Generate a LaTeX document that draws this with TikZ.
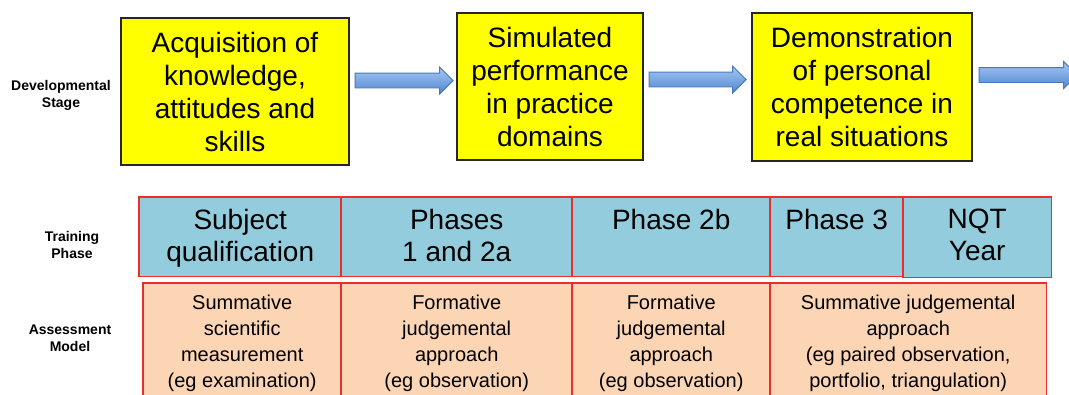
\documentclass[tikz,border=0pt]{standalone}
\usepackage{fontspec}
\setmainfont{Liberation Sans}
\usetikzlibrary{shapes.arrows}

\definecolor{stageyellow}{RGB}{255,255,0}
\definecolor{phaseblue}{RGB}{147,205,221}
\definecolor{modelpeach}{RGB}{252,213,181}
\definecolor{cellred}{RGB}{235,45,45}
\definecolor{arrowtop}{RGB}{165,200,242}
\definecolor{arrowbot}{RGB}{82,135,210}
\definecolor{arrowline}{RGB}{72,120,190}

\begin{document}
\begin{tikzpicture}[x=1pt,y=-1pt,
    stage/.style={draw=black!85, line width=1.3pt, fill=stageyellow, align=center,
        font=\fontsize{28}{33}\selectfont},
    fatarrow/.style={single arrow, draw=arrowline, line width=0.9pt,
        top color=arrowtop, bottom color=arrowbot, inner xsep=0pt, inner ysep=7pt,
        single arrow head extend=6pt, anchor=west},
    phasecell/.style={fill=phaseblue, minimum height=79pt, anchor=north west},
    modelcell/.style={fill=modelpeach, minimum height=117pt, anchor=north west},
    redline/.style={draw=cellred, line width=1.3pt},
    phasetext/.style={align=center, inner sep=0pt, anchor=north,
        font=\fontsize{28}{32}\selectfont},
    modeltext/.style={align=center, inner sep=0pt, anchor=north,
        font=\fontsize{20}{26}\selectfont},
    rowlabel/.style={align=center, font=\fontsize{14}{17}\selectfont\bfseries}]

    \clip (0,0) rectangle (1069,394);

    % row labels
    \node[rowlabel] (devlabel) at (61,95.5) {Developmental\\Stage};
    \node[rowlabel] (trainlabel) at (72,245) {Training\\Phase};
    \node[rowlabel] (assesslabel) at (70,338.5) {Assessment\\Model};

    % developmental stages
    \node[stage, minimum width=228pt, minimum height=147pt] (acq) at (235,91.5) {Acquisition of\\knowledge,\\attitudes and\\skills};
    \node[stage, minimum width=186pt, minimum height=147pt] (sim) at (550,86.5) {Simulated\\performance\\in practice\\domains};
    \node[stage, minimum width=220pt, minimum height=148pt] (demo) at (862,87) {Demonstration\\of personal\\competence in\\real situations};

    \node[fatarrow, minimum height=98pt] (arr1) at ([xshift=5pt,yshift=11pt]acq.east) {};
    \node[fatarrow, minimum height=97pt] (arr2) at ([xshift=5pt,yshift=7pt]sim.east) {};
    \node[fatarrow, minimum height=98pt] (arr3) at ([xshift=6pt,yshift=12pt]demo.east) {};

    % training phases
    \node[phasecell, minimum width=202pt] (subj) at (139,197) {};
    \node[phasecell, minimum width=231pt] (ph1) at (341,197) {};
    \node[phasecell, minimum width=198pt] (ph2b) at (572,197) {};
    \node[phasecell, minimum width=133pt] (ph3) at (770,197) {};
    \node[phasecell, minimum width=148pt, minimum height=80pt] (nqt) at (903,197) {};

    % assessment models
    \node[modelcell, minimum width=198pt] (sci) at (143,283) {};
    \node[modelcell, minimum width=231pt] (form1) at (341,283) {};
    \node[modelcell, minimum width=198pt] (form2) at (572,283) {};
    \node[modelcell, minimum width=276pt] (judg) at (770,283) {};

    % red outlines on top of the fills
    \foreach \c in {subj,ph1,ph2b,ph3,nqt,sci,form1,form2,judg}
        \draw[redline] (\c.north west) rectangle (\c.south east);

    \node[phasetext] (subjt) at ([yshift=-12pt]subj.north) {Subject\\qualification};
    \node[phasetext] (ph1t) at ([yshift=-12pt]ph1.north) {Phases\\1 and 2a};
    \node[phasetext] (ph2bt) at ([yshift=-12pt]ph2b.north) {Phase 2b};
    \node[phasetext] (ph3t) at ([yshift=-12pt]ph3.north) {Phase 3};
    \node[phasetext] (nqtt) at ([yshift=-12pt]nqt.north) {NQT\\Year};

    \node[modeltext] (scit) at ([yshift=-12pt]sci.north) {Summative\\scientific\\measurement\\(eg examination)};
    \node[modeltext] (form1t) at ([yshift=-12pt]form1.north) {Formative\\judgemental\\approach\\(eg observation)};
    \node[modeltext] (form2t) at ([yshift=-12pt]form2.north) {Formative\\judgemental\\approach\\(eg observation)};
    \node[modeltext] (judgt) at ([yshift=-12pt]judg.north) {Summative judgemental\\approach\\(eg paired observation,\\portfolio, triangulation)};
\end{tikzpicture}
\end{document}
